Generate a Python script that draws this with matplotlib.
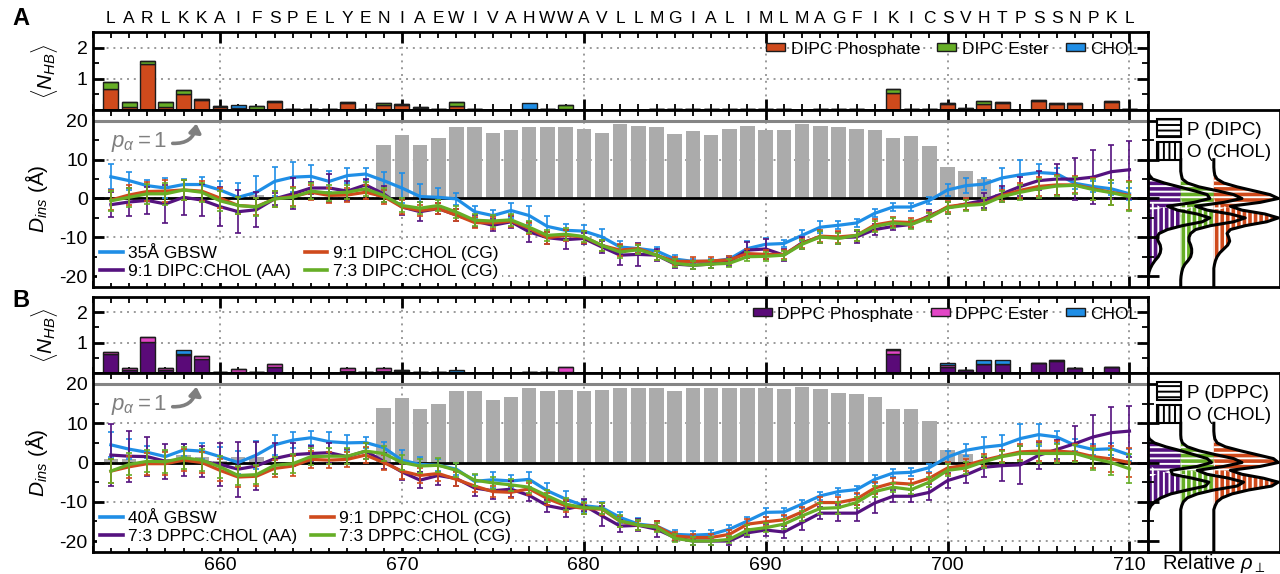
import numpy as np
import matplotlib
matplotlib.use("Agg")
import matplotlib.pyplot as plt
from matplotlib.lines import Line2D
from matplotlib.patches import Patch
from matplotlib.ticker import MultipleLocator

plt.rcParams["font.family"] = ["Liberation Sans", "DejaVu Sans"]
plt.rcParams["mathtext.fontset"] = "custom"
plt.rcParams["mathtext.rm"] = "Liberation Sans"
plt.rcParams["mathtext.it"] = "Liberation Sans:italic"
plt.rcParams["mathtext.bf"] = "Liberation Sans:bold"
plt.rcParams["axes.unicode_minus"] = False
plt.rcParams["hatch.linewidth"] = 1.4

# ---------------- data ----------------
residues = np.arange(654, 711)
sequence = list("LARLKKAIFSPELYENIAEWIVAHWWAVLLMGIALIMLMAGFIKICSVHTPSSNPKL")

# helicity bars (scaled so p_alpha = 1 -> 20)
helix_A = [0, 0, 0, 0, 0, 0, 0.3, 0.5, 1.0, 0,
           0, 0, 0, 0, 0, 13.8, 16.3, 13.8, 15.5, 18.3,
           18.3, 16.8, 17.7, 18.3, 18.5, 18.3, 17.9, 16.8, 19.2, 18.7,
           18.3, 16.7, 17.4, 16.3, 18.0, 18.7, 17.6, 17.7, 19.2, 18.7,
           18.3, 18.0, 17.6, 15.5, 16.2, 13.4, 8.0, 7.2, 5.0, 1.2,
           0, 0, 0, 0, 0, 0, 0]
helix_B = [1.0, 0.8, 0.5, 1.0, 1.8, 1.4, 0.5, 1.4, 1.4, 0,
           0, 0, 0, 0, 0, 13.8, 16.5, 13.5, 14.8, 18.2,
           18.2, 15.9, 16.7, 18.9, 18.3, 18.5, 18.2, 18.5, 19.1, 19.1,
           18.9, 18.2, 19.1, 18.9, 19.1, 19.1, 18.9, 18.7, 19.3, 18.6,
           17.8, 17.4, 16.7, 13.5, 13.5, 10.5, 3.1, 2.2, 0, 0,
           0, 0, 0, 0, 0, 0, 0]

# hydrogen bonds, panel A (DIPC)
phos_A = [0.66, 0.10, 1.48, 0.10, 0.52, 0.32, 0.11, 0.03, 0.03, 0.27,
          0.02, 0.04, 0.03, 0.22, 0.03, 0.16, 0.17, 0.07, 0.04, 0.14,
          0.02, 0.01, 0.00, 0.02, 0.03, 0.02, 0.01, 0.01, 0.01, 0.01,
          0.02, 0.03, 0.02, 0.02, 0.02, 0.03, 0.02, 0.02, 0.01, 0.02,
          0.02, 0.02, 0.01, 0.56, 0.02, 0.02, 0.18, 0.04, 0.18, 0.22,
          0.01, 0.30, 0.20, 0.20, 0.01, 0.25, 0.02]
ester_A = [0.23, 0.16, 0.10, 0.17, 0.12, 0.02, 0.02, 0.02, 0.11, 0.01,
           0, 0, 0, 0.03, 0, 0.06, 0.02, 0.01, 0, 0.12,
           0, 0, 0, 0, 0, 0.15, 0, 0, 0, 0,
           0, 0, 0, 0, 0, 0, 0, 0, 0, 0,
           0, 0, 0, 0.10, 0, 0, 0.04, 0.01, 0.12, 0.04,
           0, 0.03, 0.03, 0.03, 0, 0.05, 0]
chol_A = [0, 0, 0, 0, 0, 0, 0, 0.10, 0, 0,
          0, 0, 0, 0, 0, 0, 0, 0, 0, 0,
          0, 0, 0, 0.19, 0, 0, 0, 0, 0, 0,
          0, 0, 0, 0, 0, 0, 0, 0, 0, 0,
          0, 0, 0, 0, 0, 0, 0, 0, 0, 0,
          0, 0, 0, 0, 0, 0, 0]

# hydrogen bonds, panel B (DPPC)
phos_B = [0.64, 0.11, 1.02, 0.11, 0.58, 0.47, 0.02, 0.03, 0.03, 0.20,
          0.01, 0.01, 0.01, 0.08, 0.03, 0.06, 0.08, 0.02, 0.03, 0.03,
          0.01, 0.01, 0.00, 0.03, 0.02, 0.03, 0.01, 0.01, 0.01, 0.01,
          0.01, 0.01, 0.01, 0.01, 0.01, 0.01, 0.01, 0.01, 0.01, 0.01,
          0.01, 0.01, 0.01, 0.64, 0.00, 0.00, 0.20, 0.09, 0.28, 0.28,
          0.00, 0.34, 0.40, 0.15, 0.00, 0.19, 0.00]
ester_B = [0.06, 0.06, 0.18, 0.04, 0.05, 0.09, 0, 0.10, 0, 0.08,
           0, 0, 0, 0.07, 0.01, 0.09, 0.03, 0, 0, 0,
           0, 0, 0, 0, 0, 0.16, 0, 0, 0, 0,
           0, 0, 0, 0, 0, 0, 0, 0, 0, 0,
           0, 0, 0, 0.10, 0, 0, 0.05, 0.02, 0.02, 0.02,
           0, 0, 0.02, 0.02, 0, 0.01, 0]
chol_B = [0, 0, 0, 0, 0.12, 0, 0, 0, 0, 0,
          0, 0, 0, 0, 0, 0, 0, 0, 0, 0.08,
          0, 0, 0, 0, 0, 0, 0, 0, 0, 0,
          0, 0, 0, 0, 0, 0, 0, 0, 0, 0,
          0, 0, 0, 0.05, 0, 0, 0.09, 0, 0.13, 0.13,
          0, 0, 0, 0, 0, 0, 0]

# insertion depth, panel A
gbsw_A = [5.6, 4.6, 3.3, 2.7, 3.6, 3.6, 2.2, 0.3, 1.6, 4.4,
          5.5, 5.7, 4.4, 5.9, 6.3, 4.6, 2.7, 0.5, 0.3, -0.1,
          -3.4, -4.4, -3.1, -4.4, -7.2, -8.2, -8.4, -9.9, -12.5, -12.9,
          -13.5, -15.6, -16.2, -16.2, -15.6, -12.9, -11.8, -11.6, -9.5, -7.4,
          -6.9, -6.3, -3.8, -2.2, -2.2, -0.5, 2.2, 3.3, 3.7, 5.3,
          6.1, 6.7, 6.4, 3.9, 3.1, 2.5, 1.2]
gbsw_A_err = [3.2, 2.3, 1.5, 2.5, 1.5, 2.0, 2.4, 3.7, 4.2, 3.8,
              3.8, 3.0, 2.8, 2.0, 1.5, 2.3, 3.8, 3.3, 2.3, 1.5,
              1.5, 1.5, 2.0, 2.5, 2.8, 1.5, 1.5, 2.0, 1.5, 1.0,
              1.0, 1.0, 0.7, 0.7, 0.7, 2.0, 1.5, 1.0, 1.5, 1.5,
              1.0, 1.0, 1.0, 1.0, 1.0, 1.0, 1.5, 2.0, 1.5, 2.5,
              3.8, 2.2, 1.5, 1.5, 1.5, 1.5, 1.5]
aa_A = [-1.6, -0.9, -0.5, -1.4, 0.3, -0.4, -2.1, -3.4, -2.9, -0.1,
        1.2, 2.7, 2.7, 1.9, 3.5, 1.2, -2.2, -3.4, -2.6, -4.3,
        -5.8, -6.9, -6.0, -8.6, -10.1, -10.6, -10.3, -12.5, -14.6, -14.4,
        -14.6, -16.9, -17.2, -16.9, -16.3, -13.3, -13.0, -14.6, -11.4, -9.9,
        -10.1, -9.9, -8.0, -7.2, -6.7, -4.4, -2.4, -1.4, -0.5, 1.2,
        3.1, 4.6, 5.0, 5.0, 5.5, 6.9, 7.4]
aa_A_err = [3.2, 3.5, 3.5, 5.0, 4.5, 4.2, 5.0, 5.5, 4.5, 1.5,
            4.0, 1.5, 3.5, 2.5, 1.5, 2.0, 2.0, 2.5, 1.5, 1.5,
            1.5, 1.5, 1.5, 2.5, 1.5, 2.5, 1.5, 1.5, 2.5, 3.0,
            1.5, 1.0, 1.0, 1.0, 1.0, 2.0, 2.5, 1.5, 1.5, 1.5,
            1.5, 1.5, 1.5, 1.0, 1.0, 1.5, 1.5, 1.5, 2.0, 2.0,
            2.5, 2.5, 4.0, 5.5, 7.0, 7.0, 7.5]
cg91_A = [-0.4, 0.9, 1.8, 1.9, 2.2, 1.9, 0.1, -1.8, -2.1, -0.1,
          0.5, 1.6, 0.8, 0.9, 1.6, 0.5, -2.2, -3.1, -2.6, -4.3,
          -6.2, -6.3, -5.8, -7.7, -10.1, -9.5, -9.9, -12.1, -13.3, -12.9,
          -14.6, -16.2, -16.2, -16.1, -15.8, -14.2, -14.4, -14.4, -11.6, -9.7,
          -9.9, -9.5, -6.8, -6.0, -6.2, -4.7, -2.1, -1.5, -1.4, 0.8,
          2.1, 3.1, 3.5, 3.5, 2.5, 1.6, 0.8]
cg73_A = [-0.6, 0.3, 1.2, 1.2, 2.2, 1.6, -0.6, -1.8, -2.2, -0.1,
          0.3, 1.9, 1.4, 1.6, 2.5, 0.8, -1.8, -2.5, -1.8, -3.5,
          -5.6, -5.8, -5.5, -7.4, -9.5, -9.2, -9.8, -12.1, -13.8, -13.2,
          -14.6, -16.7, -17.2, -16.9, -16.7, -15.0, -14.9, -14.6, -11.8, -9.9,
          -10.3, -9.5, -7.2, -6.3, -6.7, -4.9, -2.4, -1.8, -1.5, 0.5,
          1.6, 2.5, 3.2, 3.4, 2.3, 1.5, 0.5]
cg_A_err = [2.5, 2.5, 2.5, 2.8, 2.5, 2.5, 2.5, 2.2, 2.2, 2.0,
            2.5, 2.0, 2.0, 1.8, 1.8, 1.8, 1.8, 1.5, 1.5, 1.5,
            1.5, 1.5, 1.5, 1.5, 1.5, 1.5, 1.5, 1.5, 1.5, 1.2,
            1.2, 1.0, 1.0, 1.0, 1.0, 1.2, 1.2, 1.2, 1.2, 1.5,
            1.5, 1.5, 1.5, 1.2, 1.2, 1.2, 1.5, 1.5, 1.5, 1.5,
            2.0, 2.5, 2.5, 2.2, 2.8, 3.2, 3.7]

# insertion depth, panel B
gbsw_B = [4.5, 3.4, 2.6, 1.5, 3.2, 2.9, 1.5, 0.0, 1.9, 4.5,
          5.7, 6.3, 5.3, 5.0, 5.1, 3.8, 0.6, -0.5, -0.7, -1.7,
          -4.8, -4.4, -4.7, -4.3, -7.2, -9.3, -11.0, -11.5, -14.0, -15.7,
          -16.2, -18.3, -18.5, -18.3, -17.0, -14.9, -12.7, -12.6, -10.6, -8.5,
          -7.4, -6.9, -4.3, -2.7, -2.5, -1.3, 1.4, 3.1, 3.9, 4.4,
          6.1, 7.1, 6.5, 4.4, 3.3, 3.5, 1.9]
gbsw_B_err = [3.2, 2.5, 1.5, 1.5, 1.5, 2.0, 2.5, 3.0, 3.5, 2.5,
              2.0, 1.8, 2.5, 2.0, 1.5, 1.5, 2.5, 2.0, 1.5, 1.5,
              1.5, 2.0, 1.5, 2.0, 2.0, 2.0, 1.5, 1.5, 1.5, 1.5,
              1.2, 1.0, 1.0, 1.0, 1.0, 1.0, 1.2, 1.0, 1.0, 1.0,
              1.0, 1.0, 1.0, 1.0, 1.0, 1.0, 1.5, 1.5, 2.5, 2.5,
              3.8, 2.8, 1.5, 1.5, 1.5, 1.5, 1.5]
aa_B = [1.9, 1.6, 1.5, 0.3, 0.6, 0.3, -0.5, -1.7, -0.9, 1.0,
        2.0, 2.3, 2.5, 1.5, 2.9, 0.3, -2.4, -4.5, -3.3, -4.1,
        -6.5, -7.2, -6.8, -8.4, -11.0, -11.9, -10.9, -13.6, -16.2, -16.0,
        -17.0, -19.1, -20.0, -20.0, -20.0, -17.9, -17.2, -17.7, -15.3, -12.9,
        -12.9, -12.9, -10.3, -8.6, -8.6, -7.6, -4.6, -3.2, -1.2, -0.8,
        -0.6, 1.8, 3.3, 4.8, 6.5, 7.6, 8.0]
aa_B_err = [7.9, 6.5, 5.0, 4.5, 4.0, 4.0, 5.5, 7.0, 6.0, 4.0,
            3.0, 2.0, 2.5, 2.0, 2.0, 2.0, 2.0, 2.0, 2.5, 2.0,
            2.0, 2.0, 2.0, 1.5, 1.5, 2.0, 1.5, 2.5, 1.5, 1.5,
            2.0, 1.0, 1.0, 1.0, 1.0, 1.0, 1.5, 1.5, 2.0, 1.5,
            2.0, 2.0, 2.5, 1.5, 1.5, 2.0, 2.0, 2.0, 2.5, 4.0,
            4.8, 3.5, 2.5, 4.5, 5.5, 6.5, 6.5]
cg91_B = [-2.2, -1.1, -0.3, -0.3, 0.6, 0.0, -2.0, -3.7, -3.5, -1.5,
          -0.9, 0.8, 0.6, 0.8, 1.9, 0.0, -2.2, -3.3, -2.8, -4.3,
          -6.0, -7.4, -7.6, -6.7, -9.2, -11.0, -11.7, -11.9, -15.0, -16.0,
          -16.2, -18.7, -19.1, -19.1, -18.3, -15.7, -15.1, -14.6, -12.6, -10.2,
          -10.2, -9.3, -6.5, -5.2, -5.5, -4.0, -1.4, -0.7, 0.6, 1.7,
          2.7, 2.9, 2.9, 2.6, 1.5, 0.9, 0.0]
cg73_B = [-2.2, -0.5, 0.3, 0.2, 1.2, 0.6, -1.1, -3.3, -3.1, -0.7,
          -0.3, 1.5, 1.6, 1.6, 2.9, 2.3, 0.0, -0.9, -0.7, -2.0,
          -4.5, -5.2, -5.7, -6.3, -8.5, -10.6, -11.5, -11.7, -14.9, -15.9,
          -16.5, -19.3, -20.0, -20.0, -19.6, -17.2, -16.6, -15.7, -13.6, -11.7,
          -11.5, -10.2, -7.4, -6.3, -6.9, -5.0, -2.0, -1.4, 0.2, 1.5,
          2.3, 2.3, 2.3, 2.3, 1.0, 0.0, -1.6]
cg_B_err = [3.0, 2.8, 2.8, 3.0, 2.8, 2.8, 2.8, 2.5, 2.5, 2.2,
            2.5, 2.2, 2.0, 2.0, 2.0, 2.0, 2.0, 1.8, 1.8, 1.8,
            1.5, 1.5, 1.5, 1.5, 1.5, 1.5, 1.5, 1.5, 1.5, 1.2,
            1.2, 1.0, 1.0, 1.0, 1.0, 1.2, 1.2, 1.2, 1.2, 1.5,
            1.5, 1.5, 1.5, 1.2, 1.2, 1.2, 1.5, 1.5, 1.5, 1.5,
            2.0, 2.5, 2.5, 2.2, 2.8, 3.2, 3.7]

# relative density profiles along the normal, sampled at depth_grid
depth_grid = np.arange(10, -24, -1)
P_A = {
    "AA": [0, 0, 0, 0.01, 0.05, 0.15, 0.5, 0.95, 1.4, 1.8, 1.88, 1.4, 0.6, 0.2, 0.05, 0,
           0, 0, 0, 0, 0, 0, 0, 0, 0, 0, 0, 0, 0, 0, 0, 0, 0, 0],
    "CG73": [0, 0, 0, 0, 0.02, 0.05, 0.2, 0.55, 1.1, 1.6, 1.85, 1.3, 0.45, 0.1, 0.02, 0,
             0, 0, 0, 0, 0, 0, 0, 0, 0, 0, 0, 0, 0, 0, 0, 0, 0, 0],
    "CG91": [0, 0, 0, 0.01, 0.03, 0.1, 0.3, 0.7, 1.2, 1.7, 1.95, 1.4, 0.5, 0.12, 0.02, 0,
             0, 0, 0, 0, 0, 0, 0, 0, 0, 0, 0, 0, 0, 0, 0, 0, 0, 0],
}
O_A = {
    "AA": [0, 0, 0, 0, 0, 0, 0, 0, 0, 0,
           0.02, 0.1, 0.35, 0.9, 1.5, 1.88, 1.65, 1.05, 0.6, 0.35, 0.28, 0.32,
           0.38, 0.4, 0.38, 0.32, 0.22, 0.14, 0.08, 0.04, 0.02, 0, 0, 0],
    "CG73": [0, 0, 0, 0, 0, 0, 0, 0, 0, 0,
             0.01, 0.05, 0.25, 0.8, 1.5, 1.95, 1.6, 0.9, 0.45, 0.3, 0.25, 0.25,
             0.3, 0.33, 0.33, 0.3, 0.22, 0.12, 0.06, 0.03, 0.01, 0, 0, 0],
    "CG91": [0, 0, 0, 0, 0, 0, 0, 0, 0, 0,
             0.01, 0.05, 0.3, 0.85, 1.55, 1.95, 1.6, 0.95, 0.5, 0.4, 0.45, 0.48,
             0.42, 0.3, 0.18, 0.1, 0.05, 0.02, 0, 0, 0, 0, 0, 0],
}
P_B = {
    "AA": [0, 0, 0, 0.01, 0.05, 0.2, 0.55, 1.0, 1.4, 1.8, 1.93, 1.5, 0.7, 0.25, 0.06, 0,
           0, 0, 0, 0, 0, 0, 0, 0, 0, 0, 0, 0, 0, 0, 0, 0, 0, 0],
    "CG73": [0, 0, 0, 0, 0.01, 0.05, 0.2, 0.55, 1.05, 1.6, 1.85, 1.3, 0.5, 0.12, 0.02, 0,
             0, 0, 0, 0, 0, 0, 0, 0, 0, 0, 0, 0, 0, 0, 0, 0, 0, 0],
    "CG91": [0, 0, 0, 0.01, 0.03, 0.1, 0.35, 0.8, 1.3, 1.8, 1.95, 1.4, 0.5, 0.12, 0.02, 0,
             0, 0, 0, 0, 0, 0, 0, 0, 0, 0, 0, 0, 0, 0, 0, 0, 0, 0],
}
O_B = {
    "AA": [0, 0, 0, 0, 0, 0, 0, 0, 0, 0,
           0.03, 0.1, 0.3, 0.75, 1.35, 1.85, 1.75, 1.2, 0.7, 0.4, 0.22, 0.1, 0.04, 0.01,
           0, 0, 0, 0, 0, 0, 0, 0, 0, 0],
    "CG73": [0, 0, 0, 0, 0, 0, 0, 0, 0, 0,
             0.02, 0.08, 0.3, 0.8, 1.45, 1.9, 1.7, 1.0, 0.5, 0.2, 0.08, 0.03,
             0, 0, 0, 0, 0, 0, 0, 0, 0, 0, 0, 0],
    "CG91": [0, 0, 0, 0, 0, 0, 0, 0, 0, 0,
             0.02, 0.06, 0.3, 0.85, 1.5, 1.95, 1.75, 1.05, 0.55, 0.25, 0.1, 0.04,
             0, 0, 0, 0, 0, 0, 0, 0, 0, 0, 0, 0],
}

# ---------------- style ----------------
BLUE = "#1f8ee6"
PURPLE = "#55127f"
ORANGE = "#cf4a1c"
GREEN = "#66ae26"
DPPC_P = "#5a0a78"
DPPC_E = "#e246c6"
GREY = "#ababab"

fig = plt.figure(figsize=(12.8, 5.74), dpi=100)
L, W = 0.0724, 0.8242
ax_hA = fig.add_axes([L, 0.8084, W, 0.1359])
ax_dA = fig.add_axes([L, 0.5000, W, 0.3084])
ax_hB = fig.add_axes([L, 0.3502, W, 0.1324])
ax_dB = fig.add_axes([L, 0.0383, W, 0.3119])
ax_rA = fig.add_axes([L + W, 0.5000, 1 - L - W, 0.3084])
ax_rB = fig.add_axes([L + W, 0.0383, 1 - L - W, 0.3119])


def frame(ax):
    ax.set_xlim(653, 711)
    ax.xaxis.set_major_locator(MultipleLocator(10))
    ax.xaxis.set_minor_locator(MultipleLocator(1))
    ax.tick_params(which="both", direction="in", top=True, right=True, labelsize=14)
    ax.tick_params(which="major", length=8, width=2)
    ax.tick_params(which="minor", length=4, width=1.3)
    ax.grid(True, which="major", color="#9a9a9a", ls=(0, (1, 2.5)), lw=1.4)
    ax.set_axisbelow(True)
    for s in ax.spines.values():
        s.set_linewidth(2)


def hbond_panel(ax, phos, ester, chol, colors, labels):
    frame(ax)
    bottom2 = np.add(phos, ester)
    kw = dict(width=0.82, edgecolor="#1c1c1c", linewidth=1.0)
    ax.bar(residues, phos, color=colors[0], label=labels[0], **kw)
    ax.bar(residues, ester, bottom=phos, color=colors[1], label=labels[1], **kw)
    ax.bar(residues, chol, bottom=bottom2, color=colors[2], label=labels[2], **kw)
    ax.set_ylim(0, 2.5)
    ax.set_yticks([1, 2])
    ax.set_yticks([0.5, 1.5], minor=True)
    ax.tick_params(axis="y", labelsize=14)
    ax.tick_params(labelbottom=False)
    ax.set_ylabel(r"$\langle N_{HB}\rangle$", fontsize=15)
    ax.yaxis.set_label_coords(-0.031, 0.5)
    ax.legend(loc="upper right", ncol=3, fontsize=12.5, frameon=False,
              handlelength=1.1, handleheight=0.35, handletextpad=0.3,
              columnspacing=1.0, borderaxespad=0.15)


def depth_panel(ax, helix, series, labels):
    frame(ax)
    ax.bar(residues, helix, width=0.8, color=GREY, zorder=1.5)
    ax.axhline(20, color="#858585", lw=2.2, zorder=2)
    ax.axhline(0, color="black", lw=2, zorder=2.5)
    handles = []
    for i, (vals, err, col) in enumerate(series):
        ax.errorbar(residues, vals, yerr=err, color=col, lw=2.3, elinewidth=1.2,
                    capsize=2.5, capthick=1.2, zorder=3 + i)
        handles.append(Line2D([], [], color=col, lw=2.6))
    ax.set_ylim(-22.8, 22.8)
    ax.set_yticks([-20, -10, 0, 10, 20])
    ax.yaxis.set_minor_locator(MultipleLocator(5))
    ax.set_ylabel(r"$D_{ins}$ (Å)", fontsize=15)
    ax.yaxis.set_label_coords(-0.040, 0.5)
    leg = ax.legend(handles, labels, loc="lower left", ncol=2, fontsize=12.5,
                    frameon=True, facecolor="white", edgecolor="none", framealpha=1,
                    handlelength=1.3, handletextpad=0.3, columnspacing=0.8,
                    labelspacing=0.15, borderpad=0.2, borderaxespad=0.25)
    leg.set_zorder(10)
    ax.text(654.0, 14.6, r"$p_\alpha = 1$", color="#7f7f7f", fontsize=16,
            va="center", ha="left", zorder=6)
    ax.annotate("", xy=(658.7, 19.3), xytext=(657.4, 14.2),
                arrowprops=dict(arrowstyle="-|>,head_length=0.5,head_width=0.35",
                                color="#7f7f7f", lw=2.6,
                                connectionstyle="arc3,rad=0.45",
                                shrinkA=0, shrinkB=0), zorder=6)


def density_panel(ax, P, O, names, ylim):
    offsets = [0, 1, 2]
    colors = [PURPLE, GREEN, ORANGE]
    for off, col, key in zip(offsets, colors, ["AA", "CG73", "CG91"]):
        p = np.array(P[key]) + off
        o = np.array(O[key]) + off
        ax.fill_betweenx(depth_grid, off, p, facecolor=col, lw=0)
        ax.fill_betweenx(depth_grid, off, o, facecolor=col, lw=0)
        ax.fill_betweenx(depth_grid, off, p, facecolor="none", edgecolor="white",
                         hatch="---", lw=0)
        ax.fill_betweenx(depth_grid, off, o, facecolor="none", edgecolor="white",
                         hatch="|||", lw=0)
        env = np.maximum(P[key], O[key]) + off
        ax.plot(env, depth_grid, color="black", lw=2.2, solid_joinstyle="round")
    ax.set_xlim(0, 4.0)
    ax.set_ylim(*ylim)
    ax.set_xticks([])
    ax.set_yticks([-20, -10, 0, 10, 20])
    ax.yaxis.set_minor_locator(MultipleLocator(5))
    ax.tick_params(axis="y", which="both", direction="in", left=True, right=False,
                   labelleft=False)
    ax.tick_params(axis="y", which="major", length=8, width=2)
    ax.tick_params(axis="y", which="minor", length=4, width=1.3)
    for s in ax.spines.values():
        s.set_linewidth(2)
    handles = [Patch(facecolor="white", edgecolor="black", hatch="---", lw=1.5),
               Patch(facecolor="white", edgecolor="black", hatch="|||", lw=1.5)]
    ax.legend(handles, names, loc="upper center", fontsize=13.5, frameon=False,
              handlelength=1.3, handleheight=1.1, handletextpad=0.3,
              labelspacing=0.15, borderaxespad=0.1)


# ---- panel A ----
hbond_panel(ax_hA, phos_A, ester_A, chol_A, [ORANGE, GREEN, BLUE],
            ["DIPC Phosphate", "DIPC Ester", "CHOL"])
for r, aa in zip(residues, sequence):
    ax_hA.annotate(aa, xy=(r, 1), xycoords=("data", "axes fraction"),
                   xytext=(0, 4.5), textcoords="offset points",
                   ha="center", va="bottom", fontsize=12.5)
depth_panel(ax_dA,
            helix_A,
            [(gbsw_A, gbsw_A_err, BLUE), (aa_A, aa_A_err, PURPLE),
             (cg91_A, cg_A_err, ORANGE), (cg73_A, cg_A_err, GREEN)],
            ["35Å GBSW", "9:1 DIPC:CHOL (AA)", "9:1 DIPC:CHOL (CG)", "7:3 DIPC:CHOL (CG)"])
ax_dA.tick_params(labelbottom=False)
density_panel(ax_rA, P_A, O_A, ["P (DIPC)", "O (CHOL)"], ax_dA.get_ylim())

# ---- panel B ----
hbond_panel(ax_hB, phos_B, ester_B, chol_B, [DPPC_P, DPPC_E, BLUE],
            ["DPPC Phosphate", "DPPC Ester", "CHOL"])
depth_panel(ax_dB,
            helix_B,
            [(gbsw_B, gbsw_B_err, BLUE), (aa_B, aa_B_err, PURPLE),
             (cg91_B, cg_B_err, ORANGE), (cg73_B, cg_B_err, GREEN)],
            ["40Å GBSW", "7:3 DPPC:CHOL (AA)", "9:1 DPPC:CHOL (CG)", "7:3 DPPC:CHOL (CG)"])
ax_dB.tick_params(axis="x", labelsize=14)
density_panel(ax_rB, P_B, O_B, ["P (DPPC)", "O (CHOL)"], ax_dB.get_ylim())
ax_rB.set_xlabel(r"Relative $\rho_\perp$", fontsize=14.5, labelpad=0)

fig.text(0.010, 0.967, "A", fontsize=17, fontweight="bold", va="center")
fig.text(0.010, 0.477, "B", fontsize=17, fontweight="bold", va="center")

fig.savefig("out.png", dpi=100)
